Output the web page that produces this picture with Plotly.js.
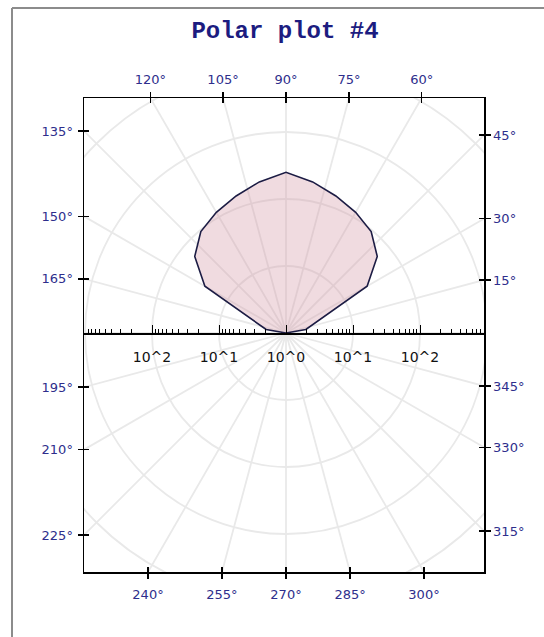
<!DOCTYPE html>
<html>
<head>
<meta charset="utf-8">
<script src="https://cdn.plot.ly/plotly-3.0.1.min.js"></script>
<style>html,body{margin:0;padding:0;background:#fff;}#chart{width:544px;height:637px;}</style>
</head>
<body>
<div id="chart"></div>
<script>
// ---- data (angle in degrees, radius on a log scale) ----
const angles = [0, 10, 30, 40, 50, 60, 70, 80, 90, 100, 110, 120, 130, 140, 150, 170, 180];
const radii  = [1, 2, 25, 60, 95, 120, 150, 195, 250, 195, 150, 120, 95, 60, 25, 2, 1];

// ---- tick labels ----
const radialTickVals   = [-2, -1, 0, 1, 2];
const radialTickLabels = ['10^2', '10^1', '10^0', '10^1', '10^2'];
const topAngles    = [120, 105, 90, 75, 60];
const bottomAngles = [240, 255, 270, 285, 300];
const leftAngles   = [135, 150, 165, 195, 210, 225];
const rightAngles  = [45, 30, 15, 345, 330, 315];
const gridDecades  = [1, 2, 3, 4];
const gridAngleStep = 15;
const minorFactors = [2, 3, 4, 5, 6, 7, 8, 9];

// ---- layout geometry ----
const W = 544, H = 637;
const M = {l: 84, r: 60, t: 98, b: 65};
const PXD = 67;                         // pixels per decade
const plotW = W - M.l - M.r, plotH = H - M.t - M.b;
const cx = 286 - M.l, cy = 333 - M.t;   // centre within plot area (px)
const xr = [-cx / PXD, (plotW - cx) / PXD];
const yr = [-(plotH - cy) / PXD, cy / PXD];

const rad = d => d * Math.PI / 180;
const lg = v => Math.log10(v);

// polar -> cartesian in decade units
const xs = angles.map((a, i) => lg(radii[i]) * Math.cos(rad(a)));
const ys = angles.map((a, i) => lg(radii[i]) * Math.sin(rad(a)));

const deg = a => a + '°';
const topVals    = topAngles.map(a => yr[1] * Math.cos(rad(a)) / Math.sin(rad(a)));
const bottomVals = bottomAngles.map(a => yr[0] * Math.cos(rad(a)) / Math.sin(rad(a)));
const leftVals   = leftAngles.map(a => xr[0] * Math.sin(rad(a)) / Math.cos(rad(a)));
const rightVals  = rightAngles.map(a => xr[1] * Math.sin(rad(a)) / Math.cos(rad(a)));

// minor log ticks on the centre axis
const minorVals = [];
[0, 1, 2].forEach(n => minorFactors.forEach(k => {
  const v = n + lg(k);
  minorVals.push(v, -v);
}));

const labelColor = '#2e2e8c';
const angFont = {family: 'DejaVu Sans, Verdana, sans-serif', size: 13, color: labelColor};

const trace = {
  type: 'scatter', mode: 'lines',
  x: xs, y: ys, fill: 'toself',
  fillcolor: 'rgba(210,150,165,0.34)',
  line: {color: '#1c1c44', width: 1.6},
  hoverinfo: 'skip', showlegend: false
};
// empty traces so that every overlay axis is drawn
const axisPairs = [['x2', 'y'], ['x3', 'y'], ['x4', 'y'], ['x5', 'y'], ['x', 'y2'], ['x', 'y3'], ['x', 'y4']];
const dummies = axisPairs.map(p => ({
  type: 'scatter', mode: 'lines', x: [], y: [], xaxis: p[0], yaxis: p[1],
  hoverinfo: 'skip', showlegend: false
}));

// grid shapes
const gridColor = '#e9e9e9';
const shapes = [];
gridDecades.forEach(d => shapes.push({
  type: 'circle', xref: 'x', yref: 'y', x0: -d, y0: -d, x1: d, y1: d,
  line: {color: gridColor, width: 1.8}, layer: 'below'
}));
for (let a = 0; a < 360; a += gridAngleStep) {
  shapes.push({
    type: 'line', xref: 'x', yref: 'y', x0: 0, y0: 0,
    x1: 8 * Math.cos(rad(a)), y1: 8 * Math.sin(rad(a)),
    line: {color: gridColor, width: 1.8}, layer: 'below'
  });
}
// outer frame of the image
shapes.push({type: 'line', xref: 'paper', yref: 'paper',
  x0: (12 - M.l) / plotW, x1: (W - M.l) / plotW,
  y0: (H - M.b - 8) / plotH, y1: (H - M.b - 8) / plotH,
  line: {color: '#8c8c8c', width: 2}});
shapes.push({type: 'line', xref: 'paper', yref: 'paper',
  x0: (12 - M.l) / plotW, x1: (12 - M.l) / plotW,
  y0: (H - M.b - 8) / plotH, y1: -M.b / plotH - 0.05,
  line: {color: '#8c8c8c', width: 2}});

const boxLine = {showline: true, linecolor: '#000', linewidth: 1.5, showgrid: false, zeroline: false};

const layout = {
  width: W, height: H,
  margin: M,
  paper_bgcolor: '#ffffff', plot_bgcolor: '#ffffff',
  showlegend: false,
  title: {
    text: 'Polar plot #4', xref: 'container', yref: 'container',
    x: 285 / W, xanchor: 'center', y: 1 - 30 / H, yanchor: 'middle',
    font: {family: 'Liberation Mono, DejaVu Sans Mono, monospace', size: 24, color: '#1c1c80', weight: 'bold'}
  },
  xaxis: Object.assign({}, boxLine, {
    range: xr, side: 'bottom', anchor: 'y',
    tickmode: 'array', tickvals: bottomVals, ticktext: bottomAngles.map(deg),
    ticks: 'outside', ticklen: 5, tickcolor: '#000', tickwidth: 1.5,
    tickfont: angFont, ticklabelstandoff: 5
  }),
  xaxis2: Object.assign({}, boxLine, {
    range: xr, side: 'top', anchor: 'y', overlaying: 'x',
    tickmode: 'array', tickvals: topVals, ticktext: topAngles.map(deg),
    ticks: 'outside', ticklen: 5, tickcolor: '#000', tickwidth: 1.5,
    tickfont: angFont, ticklabelstandoff: 2
  }),
  xaxis4: Object.assign({}, boxLine, {
    range: xr, side: 'bottom', anchor: 'y', overlaying: 'x',
    tickmode: 'array', tickvals: bottomVals, showticklabels: false,
    ticks: 'inside', ticklen: 5, tickcolor: '#000', tickwidth: 1.5
  }),
  xaxis5: Object.assign({}, boxLine, {
    range: xr, side: 'top', anchor: 'y', overlaying: 'x',
    tickmode: 'array', tickvals: topVals, showticklabels: false,
    ticks: 'inside', ticklen: 5, tickcolor: '#000', tickwidth: 1.5
  }),
  xaxis3: {
    range: xr, overlaying: 'x', anchor: 'free', side: 'bottom',
    position: (plotH - cy) / plotH,
    showline: true, linecolor: '#000', linewidth: 1.5, showgrid: false, zeroline: false,
    tickmode: 'array', tickvals: [-3].concat(radialTickVals, [3]),
    ticktext: [''].concat(radialTickLabels, ['']),
    ticks: 'inside', ticklen: 8, tickcolor: '#000', tickwidth: 1,
    minor: {tickmode: 'array', tickvals: minorVals, ticks: 'inside', ticklen: 4, tickcolor: '#000', tickwidth: 1, showgrid: false},
    tickfont: {family: 'DejaVu Sans, Verdana, sans-serif', size: 14, color: '#111'},
    ticklabelstandoff: 11
  },
  yaxis: Object.assign({}, boxLine, {
    range: yr, side: 'left', anchor: 'x',
    tickmode: 'array', tickvals: leftVals, ticktext: leftAngles.map(deg),
    ticks: 'outside', ticklen: 5, tickcolor: '#000', tickwidth: 1.5,
    tickfont: angFont, ticklabelstandoff: 2
  }),
  yaxis2: Object.assign({}, boxLine, {
    range: yr, side: 'right', anchor: 'x', overlaying: 'y',
    tickmode: 'array', tickvals: rightVals, ticktext: rightAngles.map(deg),
    ticks: 'outside', ticklen: 5, tickcolor: '#000', tickwidth: 1.5,
    tickfont: angFont, ticklabelstandoff: 0
  }),
  yaxis3: Object.assign({}, boxLine, {
    range: yr, side: 'left', anchor: 'x', overlaying: 'y',
    tickmode: 'array', tickvals: leftVals, showticklabels: false,
    ticks: 'inside', ticklen: 5, tickcolor: '#000', tickwidth: 1.5
  }),
  yaxis4: Object.assign({}, boxLine, {
    range: yr, side: 'right', anchor: 'x', overlaying: 'y',
    tickmode: 'array', tickvals: rightVals, showticklabels: false,
    ticks: 'inside', ticklen: 5, tickcolor: '#000', tickwidth: 1.5
  }),
  shapes: shapes
};

Plotly.newPlot('chart', [trace].concat(dummies), layout, {staticPlot: true, displayModeBar: false});
</script>
</body>
</html>
